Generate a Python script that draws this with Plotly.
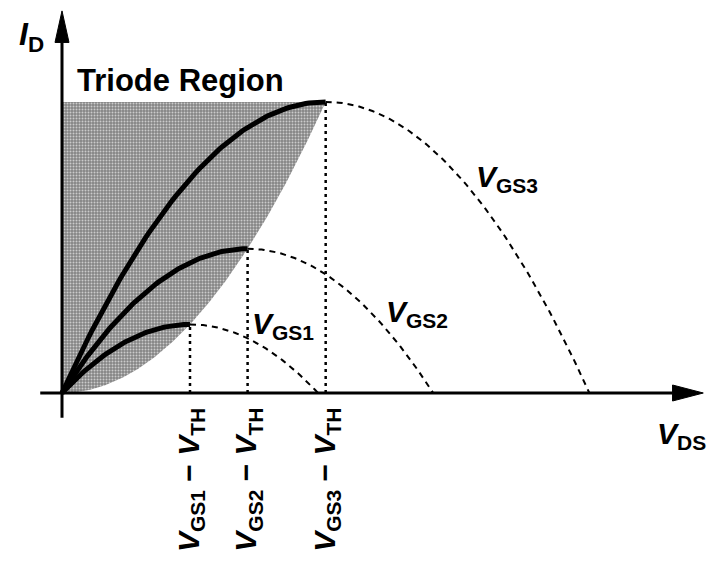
import numpy as np
import plotly.graph_objects as go

# Overdrive voltages (V_GS - V_TH) for the three gate voltages, normalized units
v_ov = [1.0, 1.45, 2.06]
curve_labels = ["<i>V</i><sub>GS1</sub>", "<i>V</i><sub>GS2</sub>", "<i>V</i><sub>GS3</sub>"]
tick_labels = ["<i>V</i><sub>GS1</sub> \u2212 <i>V</i><sub>TH</sub>",
               "<i>V</i><sub>GS2</sub> \u2212 <i>V</i><sub>TH</sub>",
               "<i>V</i><sub>GS3</sub> \u2212 <i>V</i><sub>TH</sub>"]
# label positions (V_DS, I_D) for the curve names
curve_label_pos = [(1.73, 0.98), (2.77, 1.16), (3.48, 3.12)]

W, H = 711, 567
X_PX, Y_PX = 128.0, 68.6          # pixels per unit
X0_PX, Y0_PX = 62.0, 393.0        # origin location
x_range = [-X0_PX / X_PX, (W - X0_PX) / X_PX]
y_range = [-(H - Y0_PX) / Y_PX, Y0_PX / Y_PX]

FONT = "Liberation Sans, Arial, sans-serif"


def drain_current(vds, vov):
    """Square-law triode current normalized so the peak equals vov**2."""
    return 2 * vov * vds - vds ** 2


fig = go.Figure()

# Triode region: bounded by the locus I_D = V_DS^2 up to the top curve's peak.
# A lighter halo fades the stipple out toward the lower edge.
vmax = v_ov[-1]
vb = np.linspace(0, vmax, 160)
for expo, bg, fg in [(1.55, "#b4b4b4", "#e2e2e2"), (2.0, "#858585", "#cbcbcb")]:
    edge = vmax ** 2 * (vb / vmax) ** expo
    fig.add_trace(go.Scatter(
        x=np.concatenate([vb, [vmax, 0, 0]]),
        y=np.concatenate([edge, [vmax ** 2, vmax ** 2, 0]]),
        mode="lines", fill="toself",
        line=dict(width=0, color="rgba(0,0,0,0)"),
        fillpattern=dict(shape=".", bgcolor=bg, fgcolor=fg,
                         size=3, solidity=0.35, fillmode="replace"),
        hoverinfo="skip", showlegend=False))

for vov in v_ov:
    peak = drain_current(vov, vov)
    # vertical dotted marker from the axis to the peak
    fig.add_trace(go.Scatter(
        x=[vov, vov], y=[0, peak], mode="lines",
        line=dict(color="black", width=2.5, dash="3px,4px"),
        hoverinfo="skip", showlegend=False))
    # saturation part of the parabola (dashed)
    xs = np.linspace(vov, 2 * vov, 80)
    fig.add_trace(go.Scatter(
        x=xs, y=drain_current(xs, vov), mode="lines",
        line=dict(color="black", width=2, dash="6px,5px"),
        hoverinfo="skip", showlegend=False))
    # triode part (solid)
    xt = np.linspace(0, vov, 80)
    fig.add_trace(go.Scatter(
        x=xt, y=drain_current(xt, vov), mode="lines",
        line=dict(color="black", width=5),
        hoverinfo="skip", showlegend=False))

# Axes with arrowheads
x_axis_start, x_axis_tip, x_head_len = -0.17, 5.01, 0.24
y_axis_start, y_axis_tip, y_head_len = -0.36, 5.57, 0.46
head_half_x = 8 / Y_PX
head_half_y = 7 / X_PX
fig.add_trace(go.Scatter(x=[x_axis_start, x_axis_tip - x_head_len], y=[0, 0], mode="lines",
                         line=dict(color="black", width=3), hoverinfo="skip", showlegend=False))
fig.add_trace(go.Scatter(x=[0, 0], y=[y_axis_start, y_axis_tip - y_head_len], mode="lines",
                         line=dict(color="black", width=3), hoverinfo="skip", showlegend=False))
fig.add_trace(go.Scatter(
    x=[x_axis_tip, x_axis_tip - x_head_len, x_axis_tip - x_head_len, x_axis_tip],
    y=[0, head_half_x, -head_half_x, 0], mode="lines", fill="toself",
    fillcolor="black", line=dict(color="black", width=1), hoverinfo="skip", showlegend=False))
fig.add_trace(go.Scatter(
    x=[0, head_half_y, -head_half_y, 0],
    y=[y_axis_tip, y_axis_tip - y_head_len, y_axis_tip - y_head_len, y_axis_tip],
    mode="lines", fill="toself",
    fillcolor="black", line=dict(color="black", width=1), hoverinfo="skip", showlegend=False))

annotations = []


def label(text, x, y, size=30, angle=0, xanchor="center", yanchor="middle"):
    annotations.append(dict(
        text="<b>" + text + "</b>", x=x, y=y, xref="x", yref="y",
        showarrow=False, textangle=angle, xanchor=xanchor, yanchor=yanchor,
        font=dict(family=FONT, size=size, color="black")))


label("Triode Region", 0.1, 4.56, size=31, xanchor="left")
label("<i>I</i><sub>D</sub>", -0.24, 5.2, size=32)
label("<i>V</i><sub>DS</sub>", 4.84, -0.62, size=30)
for txt, (lx, ly) in zip(curve_labels, curve_label_pos):
    label(txt, lx, ly, size=30)
for vov, txt in zip(v_ov, tick_labels):
    label(txt, vov, -1.27, size=30, angle=-90)

fig.update_layout(
    width=W, height=H, margin=dict(l=0, r=0, t=0, b=0),
    paper_bgcolor="white", plot_bgcolor="white",
    xaxis=dict(range=x_range, visible=False, fixedrange=True),
    yaxis=dict(range=y_range, visible=False, fixedrange=True),
    annotations=annotations, showlegend=False)

fig.write_html("out.html")
